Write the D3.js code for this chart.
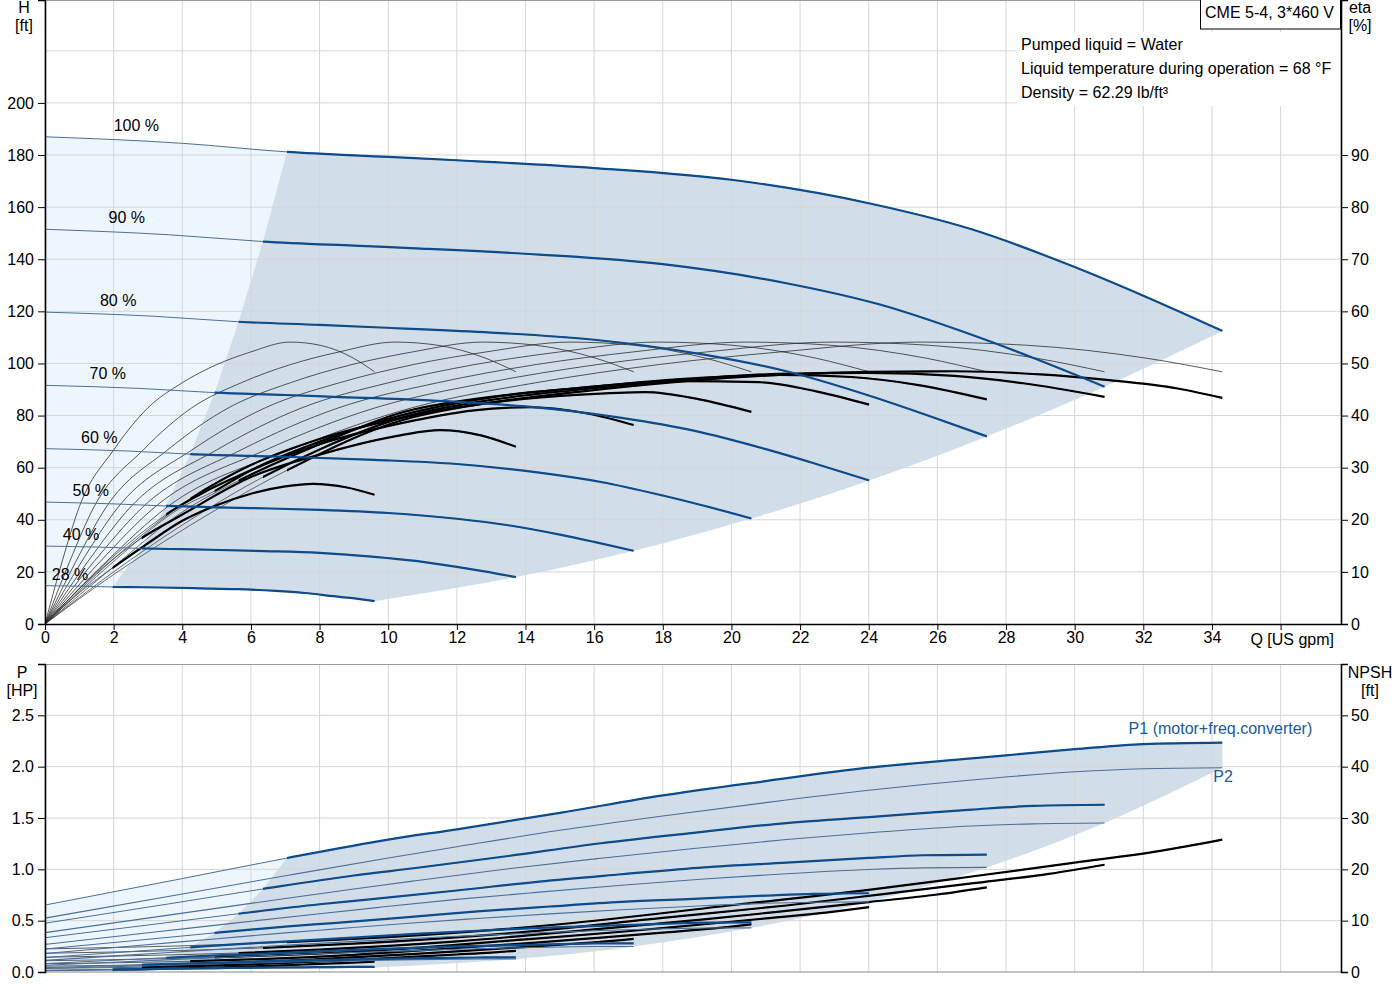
<!DOCTYPE html>
<html>
<head>
<meta charset="utf-8">
<title>CME 5-4 pump curves</title>
<script src="https://d3js.org/d3.v7.min.js"></script>
<style>
  body { margin: 0; background: #fff; }
  text { font-family: Arial, "Liberation Sans", sans-serif; font-size: 16px; fill: #000; }
</style>
</head>
<body>
<svg id="chart" width="1400" height="1000"></svg>
<script>
// speeds, 100 % down to 28 %
var speeds = ["100 %", "90 %", "80 %", "70 %", "60 %", "50 %", "40 %", "28 %"];
// flow where each curve turns from thin to thick (left edge of the operating area)
var qMin = [7.05, 6.35, 5.64, 4.94, 4.23, 3.53, 2.82, 1.97];

// head [Q gpm, H ft]
var headCurves = [
  [[0,187],[4,184.5],[7.05,181.2],[10,179.3],[12,178],[16,175],[20,170.5],[24,161.5],[27,151.5],[30,137],[32,126],[34.3,112.5]],
  [[0,151.5],[3.6,149.4],[6.35,146.8],[9,145.2],[10.8,144.2],[14.4,141.8],[18,138.1],[21.6,130.8],[24.3,122.7],[27,111],[28.8,102.1],[30.87,91.1]],
  [[0,119.7],[3.2,118.1],[5.64,116],[8,114.8],[9.6,113.9],[12.8,112],[16,109.1],[19.2,103.4],[21.6,97],[24,87.7],[25.6,80.6],[27.44,72]],
  [[0,91.6],[2.8,90.4],[4.94,88.8],[7,87.9],[8.4,87.2],[11.2,85.8],[14,83.5],[16.8,79.1],[18.9,74.2],[21,67.1],[22.4,61.7],[24.01,55.1]],
  [[0,67.3],[2.4,66.4],[4.23,65.2],[6,64.5],[7.2,64.1],[9.6,63],[12,61.4],[14.4,58.1],[16.2,54.5],[18,49.3],[19.2,45.4],[20.58,40.5]],
  [[0,46.8],[2,46.1],[3.53,45.3],[5,44.8],[6,44.5],[8,43.8],[10,42.6],[12,40.4],[13.5,37.9],[15,34.3],[16,31.5],[17.15,28.1]],
  [[0,29.9],[1.6,29.5],[2.82,29],[4,28.7],[4.8,28.5],[6.4,28],[8,27.3],[9.6,25.8],[10.8,24.2],[12,21.9],[12.8,20.2],[13.72,18]],
  [[0,14.7],[1.12,14.5],[1.97,14.2],[2.8,14.1],[3.36,14],[4.48,13.7],[5.6,13.4],[6.72,12.7],[7.56,11.9],[8.4,10.7],[8.96,9.9],[9.6,8.8]]
];

// pump efficiency (thin lines): flow points per speed, eta values shared
var pumpEtaQ = [
  [0,1.79,3.57,7.14,10.7,14.3,17.9,21.4,25.5,28.6,32.1,34.3],
  [0,1.61,3.21,6.43,9.63,12.87,16.11,19.26,22.95,25.74,28.89,30.87],
  [0,1.43,2.86,5.71,8.56,11.44,14.32,17.12,20.4,22.88,25.68,27.44],
  [0,1.25,2.5,5.0,7.49,10.01,12.53,14.98,17.85,20.02,22.47,24.01],
  [0,1.07,2.14,4.28,6.42,8.58,10.74,12.84,15.3,17.16,19.26,20.58],
  [0,0.9,1.79,3.57,5.35,7.15,8.95,10.7,12.75,14.3,16.05,17.15],
  [0,0.72,1.43,2.86,4.28,5.72,7.16,8.56,10.2,11.44,12.84,13.72],
  [0,0.5,1.0,2.0,3.0,4.0,5.01,5.99,7.14,8.01,8.99,9.6]
];
var pumpEtaVals = [0,12,22.5,33.4,41.5,46.3,49.8,52.2,54.1,53.5,51,48.4];

// total efficiency (thick black) [Q, eta %]
var totalEta = [
  [[0,0],[2,9.5],[4,18],[7.05,29.5],[10.35,39],[13,42.5],[15.6,44.6],[18.5,46.5],[21.4,47.8],[24,48.4],[26.5,48.5],[29,47.9],[31,46.8],[33,45.2],[34.3,43.4]],
  [[0,0],[2,10],[4,19],[6.35,28.2],[8,33.5],[10.35,39.5],[13,43],[15.6,45],[18.5,46.8],[21.4,48],[24,48.2],[26.5,47.6],[28.5,46.2],[30.87,43.6]],
  [[0,0],[2,11],[4,21.5],[5.64,27.5],[8,34.5],[10.35,40.5],[13,43.6],[15.6,45.3],[18.5,47],[21.4,47.8],[23.5,47.4],[25.5,45.8],[27.44,43.1]],
  [[0,0],[2,12],[4,22.5],[4.94,25.5],[6,29.5],[8,35],[10.35,40],[13,43.5],[15.6,45.3],[18.5,46.6],[20.8,46.4],[22.5,44.6],[24.01,42.1]],
  [[0,0],[2,12.5],[4.23,24],[6,30.5],[8,35.5],[10.35,39.5],[13,42.5],[15.6,44],[17.5,44.5],[19,43.2],[20.58,40.7]],
  [[0,0],[1.5,10],[3.53,21],[6,29.5],[8,34.5],[10.35,38.5],[12.5,41],[14.2,41.6],[15.8,40.4],[17.15,38.2]],
  [[0,0],[1.2,8],[2.82,16.5],[4,21],[6,28.2],[8,32.5],[10.35,36.2],[11.5,37.2],[12.7,36.2],[13.72,34]],
  [[0,0],[1,6],[2,10.9],[3,15.5],[4,19.8],[5,22.8],[6,25],[7,26.4],[7.8,26.9],[8.8,26.2],[9.6,24.8]]
];

// power: flow points per speed, P1 and P2 values [HP]
var powerQ = [
  [0,4,7.05,10,12,15,18,21,24,27,30,32,34.3],
  [0,3.6,6.35,9,10.8,13.5,16.2,18.9,21.6,24.3,27,28.8,30.87],
  [0,3.2,5.64,8,9.6,12,14.4,16.8,19.2,21.6,24,25.6,27.44],
  [0,2.8,4.94,7,8.4,10.5,12.6,14.7,16.8,18.9,21,22.4,24.01],
  [0,2.4,4.23,6,7.2,9,10.8,12.6,14.4,16.2,18,19.2,20.58],
  [0,2,3.53,5,6,7.5,9,10.5,12,13.5,15,16,17.15],
  [0,1.6,2.82,4,4.8,6,7.2,8.4,9.6,10.8,12,12.8,13.72],
  [0,1.12,1.97,2.8,3.36,4.2,5.04,5.88,6.72,7.56,8.4,8.96,9.6]
];
var p1Vals = [
  [0.652,0.91,1.11,1.29,1.39,1.55,1.72,1.86,1.99,2.08,2.17,2.22,2.235],
  [0.475,0.663,0.809,0.94,1.013,1.13,1.254,1.356,1.451,1.516,1.582,1.618,1.629],
  [0.334,0.466,0.568,0.66,0.712,0.794,0.881,0.952,1.019,1.065,1.111,1.137,1.144],
  [0.224,0.312,0.381,0.442,0.477,0.532,0.59,0.638,0.683,0.713,0.744,0.761,0.767],
  [0.141,0.197,0.24,0.279,0.3,0.335,0.372,0.402,0.43,0.45,0.469,0.48,0.483],
  [0.082,0.114,0.139,0.161,0.174,0.194,0.215,0.233,0.249,0.26,0.271,0.278,0.279],
  [0.042,0.058,0.071,0.083,0.089,0.099,0.11,0.119,0.127,0.133,0.139,0.142,0.143],
  [0.014,0.02,0.024,0.028,0.031,0.034,0.038,0.041,0.044,0.046,0.048,0.049,0.049]
];
var p2Vals = [
  [0.525,0.76,0.94,1.11,1.22,1.38,1.52,1.65,1.77,1.87,1.95,1.98,1.99],
  [0.383,0.554,0.685,0.809,0.889,1.006,1.108,1.203,1.29,1.363,1.422,1.443,1.451],
  [0.269,0.389,0.481,0.568,0.625,0.707,0.778,0.845,0.906,0.957,0.998,1.014,1.019],
  [0.18,0.261,0.322,0.381,0.418,0.473,0.521,0.566,0.607,0.641,0.669,0.679,0.683],
  [0.113,0.164,0.203,0.24,0.264,0.298,0.328,0.357,0.382,0.404,0.421,0.428,0.43],
  [0.066,0.095,0.118,0.139,0.153,0.173,0.19,0.206,0.221,0.234,0.244,0.248,0.249],
  [0.034,0.049,0.06,0.071,0.078,0.088,0.097,0.106,0.113,0.12,0.125,0.127,0.127],
  [0.012,0.017,0.021,0.024,0.027,0.03,0.033,0.036,0.039,0.041,0.043,0.044,0.044]
];

// NPSH [Q, ft]
var npshCurves = [
  [[0,4.5],[5,5.3],[7.05,5.8],[10,6.8],[15,9.3],[20,13],[24,16],[27,18.6],[30,21.3],[32.5,23.6],[34.3,25.8]],
  [[0,3.65],[4.5,4.29],[6.35,4.7],[9,5.51],[13.5,7.53],[18,10.53],[21.6,12.96],[24.3,15.07],[27,17.25],[29.25,19.12],[30.87,20.9]],
  [[0,2.88],[4,3.39],[5.64,3.7],[8,4.35],[12,5.95],[16,8.32],[19.2,10.24],[21.6,11.9],[24,13.63],[26,15.1],[27.44,16.5]],
  [[0,2.2],[3.5,2.6],[4.94,2.85],[7,3.33],[10.5,4.56],[14,6.37],[16.8,7.84],[18.9,9.11],[21,10.44],[22.75,11.56],[24.01,12.64]],
  [[0,1.62],[3,1.91],[4.23,2.1],[6,2.45],[9,3.35],[12,4.68],[14.4,5.76],[16.2,6.7],[18,7.67],[19.5,8.5],[20.58,9.29]],
  [[0,1.13],[2.5,1.33],[3.53,1.45],[5,1.7],[7.5,2.33],[10,3.25],[12,4],[13.5,4.65],[15,5.33],[16.25,5.9],[17.15,6.45]],
  [[0,0.72],[2,0.85],[2.82,0.93],[4,1.09],[6,1.49],[8,2.08],[9.6,2.56],[10.8,2.98],[12,3.41],[13,3.78],[13.72,4.13]],
  [[0,0.35],[1.4,0.42],[1.97,0.46],[2.8,0.53],[4.2,0.73],[5.6,1.02],[6.72,1.25],[7.56,1.46],[8.4,1.67],[9.1,1.85],[9.6,2.02]]
];

var xTicks = d3.range(0, 37, 2);
var hTicks = d3.range(0, 201, 20);
var etaTicks = d3.range(0, 91, 10);
var pTicks = [0, 0.5, 1.0, 1.5, 2.0, 2.5];
var npshTicks = d3.range(0, 51, 10);

var infoLines = ["Pumped liquid = Water", "Liquid temperature during operation = 68 \u00b0F", "Density = 62.29 lb/ft\u00b3"];

// ---------------------------------------------------------------
var svg = d3.select("#chart");
var left = 45, right = 1341;
var topY0 = 0, topY1 = 624, botY0 = 664, botY1 = 972;

var x = d3.scaleLinear().domain([0, 37.76]).range([left, right]);
var yH = d3.scaleLinear().domain([0, 239.5]).range([topY1, topY0]);
var yEta = d3.scaleLinear().domain([0, 119.75]).range([topY1, topY0]);
var yP = d3.scaleLinear().domain([0, 3]).range([botY1, botY0]);
var yN = d3.scaleLinear().domain([0, 60]).range([botY1, botY0]);

var blue = "#0e4b8a";
var thinBlue = "#4a6f98";
var shadeLight = "#eef6fd";
var shadeOp = "#d1dde9";
var gridCol = "#d6d6d6";

var defs = svg.append("defs");
defs.append("clipPath").attr("id", "clipTop").append("rect")
  .attr("x", left).attr("y", topY0).attr("width", right - left).attr("height", topY1 - topY0);
defs.append("clipPath").attr("id", "clipBot").append("rect")
  .attr("x", left).attr("y", botY0).attr("width", right - left).attr("height", botY1 - botY0);
qMin.forEach(function (q, i) {
  defs.append("clipPath").attr("id", "thick" + i).append("rect")
    .attr("x", x(q)).attr("y", 0).attr("width", right - x(q)).attr("height", 1000);
});

function pairs(qs, vs) { return qs.map(function (q, k) { return [q, vs[k]]; }); }
function fromQ(pts, q) { return pts.filter(function (p) { return p[0] >= q - 1e-9; }); }

// path helpers: smooth segment and straight edge, chained into one outline
function smooth(ys) {
  return d3.line().x(function (d) { return x(d[0]); }).y(function (d) { return ys(d[1]); }).curve(d3.curveMonotoneX);
}
function straight(ys) {
  return d3.line().x(function (d) { return x(d[0]); }).y(function (d) { return ys(d[1]); });
}
function rounded(ys) {
  return d3.line().x(function (d) { return x(d[0]); }).y(function (d) { return ys(d[1]); }).curve(d3.curveCatmullRom);
}
function cont(s) { return s.replace(/^M/, "L"); }

// ================= TOP CHART =================
var gTop = svg.append("g").attr("clip-path", "url(#clipTop)");

var hS = smooth(yH), hL = straight(yH), hR = rounded(yH);
var top100 = headCurves[0], bot28 = headCurves[7];
var endsH = headCurves.map(function (c) { return c[c.length - 1]; });
var edgeH = headCurves.map(function (c, i) { return c.find(function (p) { return p[0] === qMin[i]; }); });

// whole area between 100 % and 28 %
gTop.append("path")
  .attr("d", hS(top100) + cont(hR(endsH)) + cont(hS(bot28.slice().reverse())) + "Z")
  .attr("fill", shadeLight);

// operating area
gTop.append("path")
  .attr("d", hL(edgeH.slice().reverse()) + cont(hS(fromQ(top100, qMin[0]))) +
    cont(hR(endsH)) + cont(hS(fromQ(bot28, qMin[7]).reverse())) + "Z")
  .attr("fill", shadeOp);

// grid
var gridTop = svg.append("g");
xTicks.forEach(function (t) {
  gridTop.append("line").attr("x1", x(t)).attr("x2", x(t)).attr("y1", topY0).attr("y2", topY1)
    .attr("stroke", gridCol).attr("stroke-width", 1);
});
d3.range(20, 221, 20).forEach(function (t) {
  gridTop.append("line").attr("x1", left).attr("x2", right).attr("y1", yH(t)).attr("y2", yH(t))
    .attr("stroke", gridCol).attr("stroke-width", 1);
});
gridTop.append("line").attr("x1", left).attr("x2", right).attr("y1", 0.5).attr("y2", 0.5)
  .attr("stroke", "#999").attr("stroke-width", 1);

var curvesTop = svg.append("g").attr("clip-path", "url(#clipTop)");
var eS = smooth(yEta);

// pump efficiency, thin
pumpEtaQ.forEach(function (qs) {
  curvesTop.append("path").attr("d", eS(pairs(qs, pumpEtaVals)))
    .attr("fill", "none").attr("stroke", "#222").attr("stroke-width", 0.75);
});

// total efficiency: thin then thick
totalEta.forEach(function (c, i) {
  curvesTop.append("path").attr("d", eS(c)).attr("fill", "none").attr("stroke", "#333").attr("stroke-width", 0.7);
  curvesTop.append("g").attr("clip-path", "url(#thick" + i + ")")
    .append("path").attr("d", eS(c)).attr("fill", "none").attr("stroke", "#000").attr("stroke-width", 2.2);
});

// head curves: thin then thick
headCurves.forEach(function (c, i) {
  curvesTop.append("path").attr("d", hS(c)).attr("fill", "none").attr("stroke", thinBlue).attr("stroke-width", 1);
  curvesTop.append("g").attr("clip-path", "url(#thick" + i + ")")
    .append("path").attr("d", hS(c)).attr("fill", "none").attr("stroke", blue).attr("stroke-width", 2.2);
});

// speed labels
var labelQ = [2.0, 1.85, 1.6, 1.3, 1.05, 0.8, 0.52, 0.2];
speeds.forEach(function (s, i) {
  svg.append("text").attr("x", x(labelQ[i])).attr("y", yH(headCurves[i][0][1]) - 6).text(s);
});

// axes top
var axL = svg.append("g").attr("transform", "translate(" + left + ",0)")
  .call(d3.axisLeft(yH).tickValues(hTicks).tickSize(7).tickPadding(4));
var axR = svg.append("g").attr("transform", "translate(" + right + ",0)")
  .call(d3.axisRight(yEta).tickValues(etaTicks).tickSize(7).tickPadding(3));
var axX = svg.append("g").attr("transform", "translate(0," + topY1 + ")")
  .call(d3.axisBottom(x).tickValues(xTicks).tickSize(6).tickPadding(2)
    .tickFormat(function (d) { return d === 36 ? "" : d; }));
[axL, axR, axX].forEach(function (a) {
  a.selectAll("text").style("font-size", "16px").attr("fill", "#000");
  a.selectAll("line").attr("stroke", "#000");
  a.select(".domain").attr("stroke", "#000").attr("stroke-width", 1.6);
});
axX.select(".domain").attr("d", "M" + left + ",0.5H" + right);

svg.append("text").attr("x", 24).attr("y", 13).attr("text-anchor", "middle").text("H");
svg.append("text").attr("x", 24).attr("y", 31).attr("text-anchor", "middle").text("[ft]");
svg.append("text").attr("x", 1360).attr("y", 13).attr("text-anchor", "middle").text("eta");
svg.append("text").attr("x", 1360).attr("y", 31).attr("text-anchor", "middle").text("[%]");
svg.append("text").attr("x", 1334).attr("y", 645).attr("text-anchor", "end").text("Q [US gpm]");

// info block
svg.append("rect").attr("x", 1017).attr("y", 32).attr("width", right - 1017 - 1).attr("height", 74).attr("fill", "#fff");
infoLines.forEach(function (t, k) {
  svg.append("text").attr("x", 1021).attr("y", 50 + k * 24).text(t);
});
svg.append("rect").attr("x", 1200.5).attr("y", -1).attr("width", 140).attr("height", 30)
  .attr("fill", "#fff").attr("stroke", "#000").attr("stroke-width", 1);
svg.append("text").attr("x", 1205).attr("y", 18).text("CME 5-4, 3*460 V");

// ================= BOTTOM CHART =================
var gBot = svg.append("g").attr("clip-path", "url(#clipBot)");
var pS = smooth(yP), pL = straight(yP), pR = rounded(yP), nS = smooth(yN);
var p1 = powerQ.map(function (qs, i) { return pairs(qs, p1Vals[i]); });
var p2 = powerQ.map(function (qs, i) { return pairs(qs, p2Vals[i]); });
var p1End = p1[0][p1[0].length - 1];
var endsP2 = p2.map(function (c) { return c[c.length - 1]; });
var edgeP = p1.map(function (c, i) { return c.find(function (p) { return p[0] === qMin[i]; }); });
var rightEdgeP = cont(pL([p1End, endsP2[0]])) + cont(pR(endsP2));

gBot.append("path")
  .attr("d", pS(p1[0]) + rightEdgeP + cont(pS(p2[7].slice().reverse())) + "Z")
  .attr("fill", shadeLight);
gBot.append("path")
  .attr("d", pL([p2[7][2]].concat(edgeP.slice().reverse())) + cont(pS(fromQ(p1[0], qMin[0]))) +
    rightEdgeP + cont(pS(fromQ(p2[7], qMin[7]).reverse())) + "Z")
  .attr("fill", shadeOp);

var gridBot = svg.append("g");
xTicks.forEach(function (t) {
  gridBot.append("line").attr("x1", x(t)).attr("x2", x(t)).attr("y1", botY0).attr("y2", botY1)
    .attr("stroke", gridCol).attr("stroke-width", 1);
});
pTicks.slice(1).forEach(function (t) {
  gridBot.append("line").attr("x1", left).attr("x2", right).attr("y1", yP(t)).attr("y2", yP(t))
    .attr("stroke", gridCol).attr("stroke-width", 1);
});
gridBot.append("line").attr("x1", left).attr("x2", right).attr("y1", botY0 + 0.5).attr("y2", botY0 + 0.5)
  .attr("stroke", "#999").attr("stroke-width", 1);
gridBot.append("line").attr("x1", left).attr("x2", right).attr("y1", botY1).attr("y2", botY1)
  .attr("stroke", "#888").attr("stroke-width", 1.2);

var curvesBot = svg.append("g").attr("clip-path", "url(#clipBot)");
npshCurves.forEach(function (c, i) {
  curvesBot.append("path").attr("d", nS(c)).attr("fill", "none").attr("stroke", "#333").attr("stroke-width", 0.8);
  curvesBot.append("g").attr("clip-path", "url(#thick" + i + ")")
    .append("path").attr("d", nS(c)).attr("fill", "none").attr("stroke", "#000").attr("stroke-width", 2.2);
});
p2.forEach(function (c) {
  curvesBot.append("path").attr("d", pS(c)).attr("fill", "none").attr("stroke", thinBlue).attr("stroke-width", 1.1);
});
p1.forEach(function (c, i) {
  curvesBot.append("path").attr("d", pS(c)).attr("fill", "none").attr("stroke", thinBlue).attr("stroke-width", 1);
  curvesBot.append("g").attr("clip-path", "url(#thick" + i + ")")
    .append("path").attr("d", pS(c)).attr("fill", "none").attr("stroke", blue).attr("stroke-width", 2.2);
});

var bL = svg.append("g").attr("transform", "translate(" + left + ",0)")
  .call(d3.axisLeft(yP).tickValues(pTicks).tickSize(7).tickPadding(4).tickFormat(d3.format(".1f")));
var bR = svg.append("g").attr("transform", "translate(" + right + ",0)")
  .call(d3.axisRight(yN).tickValues(npshTicks).tickSize(7).tickPadding(3));
[bL, bR].forEach(function (a) {
  a.selectAll("text").style("font-size", "16px").attr("fill", "#000");
  a.selectAll("line").attr("stroke", "#000");
  a.select(".domain").attr("stroke", "#000").attr("stroke-width", 1.6);
});

svg.append("text").attr("x", 22).attr("y", 678).attr("text-anchor", "middle").text("P");
svg.append("text").attr("x", 22).attr("y", 696).attr("text-anchor", "middle").text("[HP]");
svg.append("text").attr("x", 1370).attr("y", 678).attr("text-anchor", "middle").text("NPSH");
svg.append("text").attr("x", 1370).attr("y", 696).attr("text-anchor", "middle").text("[ft]");

var lastP2 = p2[0][p2[0].length - 1];
svg.append("text").attr("x", x(p1End[0]) + 90).attr("y", yP(p1End[1]) - 9).attr("text-anchor", "end")
  .style("fill", "#1a5a9c").text("P1 (motor+freq.converter)");
svg.append("text").attr("x", x(lastP2[0]) - 9).attr("y", yP(lastP2[1]) + 14)
  .style("fill", "#1a5a9c").text("P2");
</script>
</body>
</html>
